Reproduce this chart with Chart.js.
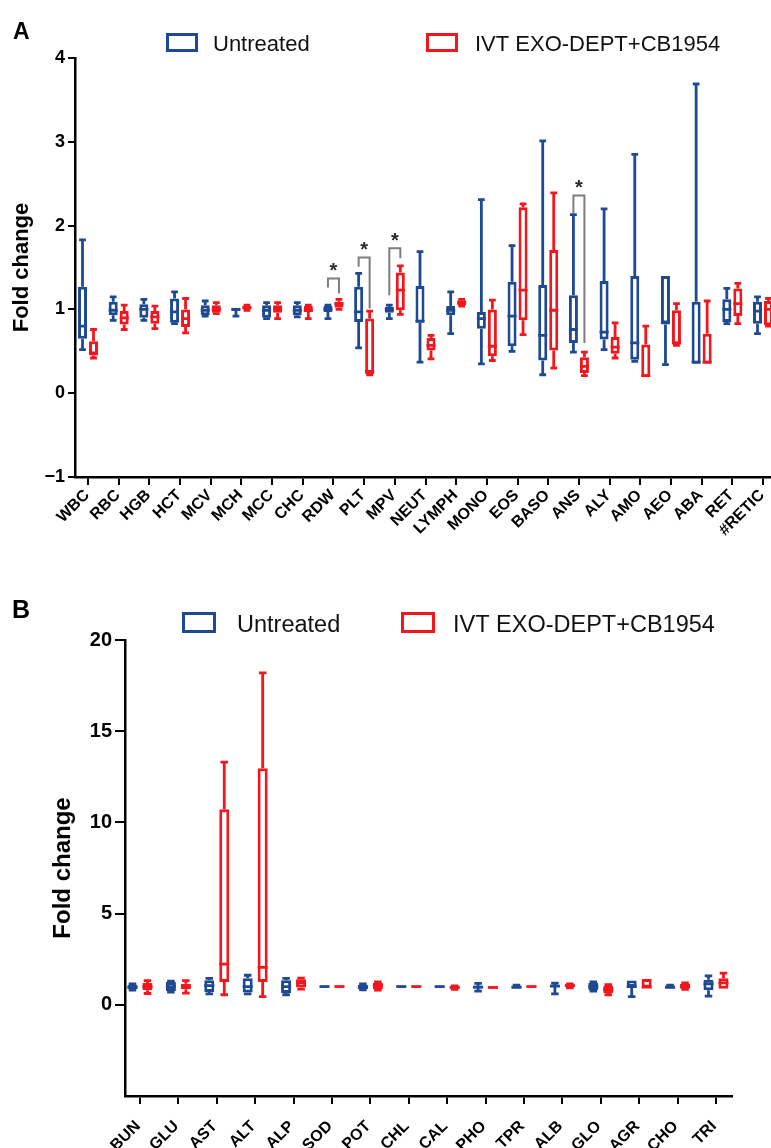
<!DOCTYPE html>
<html>
<head>
<meta charset="utf-8">
<title>Fold change box plots</title>
<script src="https://cdn.jsdelivr.net/npm/chart.js@4.4.1/dist/chart.umd.min.js"></script>
<style>
  body { margin: 0; background: #fff; }
  #wrap { position: relative; width: 771px; height: 1148px; background: #fff; }
  canvas { position: absolute; left: 0; }
</style>
</head>
<body>
<div id="wrap">
  <canvas id="chartA" width="771" height="574" style="top:0"></canvas>
  <canvas id="chartB" width="771" height="574" style="top:574px"></canvas>
</div>
<script>
// Séries (fold change) — caixa = q1..q3, bigodes = min..max
const seriesNames = ['Untreated', 'IVT EXO-DEPT+CB1954'];

// Painel A — hematologia
const catsA = ['WBC', 'RBC', 'HGB', 'HCT', 'MCV', 'MCH', 'MCC', 'CHC', 'RDW', 'PLT', 'MPV', 'NEUT', 'LYMPH',
  'MONO', 'EOS', 'BASO', 'ANS', 'ALY', 'AMO', 'AEO', 'ABA', 'RET', '#RETIC'];
const ticksA = [-1, 0, 1, 2, 3, 4];

const untrMinA = [0.52, 0.87, 0.87, 0.83, 0.92, 0.92, 0.89, 0.91, 0.89, 0.54, 0.89, 0.37, 0.71, 0.35, 0.50, 0.22, 0.49, 0.52, 0.38, 0.34, 0.35, 0.83, 0.71];
const untrQ1A  = [0.65, 0.93, 0.90, 0.84, 0.93, 0.98, 0.90, 0.93, 0.97, 0.85, 0.96, 0.84, 0.93, 0.77, 0.56, 0.39, 0.60, 0.64, 0.40, 0.82, 0.35, 0.85, 0.83];
const untrMedA = [0.80, 0.99, 1.00, 0.97, 0.99, 1.00, 0.99, 0.99, 1.00, 0.97, 1.00, 0.86, 0.99, 0.89, 0.92, 0.69, 0.76, 0.73, 0.60, 0.85, 0.37, 1.00, 0.98];
const untrQ3A  = [1.27, 1.09, 1.06, 1.13, 1.05, 1.02, 1.05, 1.05, 1.04, 1.27, 1.03, 1.28, 1.04, 0.97, 1.33, 1.29, 1.17, 1.34, 1.40, 1.40, 1.09, 1.12, 1.09];
const untrMaxA = [1.83, 1.15, 1.12, 1.21, 1.10, 1.02, 1.08, 1.08, 1.05, 1.43, 1.05, 1.69, 1.21, 2.31, 1.76, 3.01, 2.13, 2.20, 2.85, 1.40, 3.69, 1.25, 1.15];

const trtMinA = [0.42, 0.76, 0.77, 0.72, 0.95, 0.99, 0.89, 0.89, 1.00, 0.22, 0.94, 0.41, 1.04, 0.39, 0.70, 0.30, 0.21, 0.42, 0.19, 0.57, 0.35, 0.83, 0.80];
const trtQ1A  = [0.45, 0.82, 0.83, 0.79, 0.96, 1.00, 0.96, 0.97, 1.02, 0.23, 0.99, 0.51, 1.05, 0.44, 0.87, 0.51, 0.24, 0.47, 0.19, 0.58, 0.35, 0.92, 0.81];
const trtMedA = [0.48, 0.90, 0.91, 0.89, 1.00, 1.02, 1.01, 0.99, 1.07, 0.26, 1.23, 0.57, 1.08, 0.56, 1.23, 0.99, 0.32, 0.55, 0.21, 0.60, 0.37, 1.07, 1.00];
const trtQ3A  = [0.62, 0.98, 0.98, 1.00, 1.05, 1.04, 1.05, 1.04, 1.09, 0.89, 1.44, 0.66, 1.11, 1.00, 2.22, 1.71, 0.43, 0.67, 0.58, 0.99, 0.71, 1.25, 1.10];
const trtMaxA = [0.76, 1.05, 1.04, 1.13, 1.08, 1.05, 1.08, 1.05, 1.12, 0.98, 1.52, 0.69, 1.12, 1.11, 2.26, 2.39, 0.49, 0.84, 0.80, 1.07, 1.10, 1.31, 1.13];

// Colchetes de significância (painel A)
const sigCats     = ['RDW', 'PLT', 'MPV', 'ANS'];
const sigTop      = [1.37, 1.62, 1.73, 2.36];
const sigLeftEnd  = [1.26, 1.51, 1.17, 2.14];
const sigRightEnd = [1.19, 1.01, 1.61, 0.60];

// Painel B — bioquímica
const catsB = ['BUN', 'GLU', 'AST', 'ALT', 'ALP', 'SOD', 'POT', 'CHL', 'CAL', 'PHO', 'TPR', 'ALB', 'GLO', 'AGR', 'CHO', 'TRI'];
const ticksB = [0, 5, 10, 15, 20];

const untrMinB = [0.80, 0.70, 0.60, 0.60, 0.55, 0.98, 0.82, 0.97, 0.97, 0.75, 0.86, 0.60, 0.75, 0.45, 0.86, 0.48];
const untrQ1B  = [0.85, 0.75, 0.70, 0.68, 0.65, 0.99, 0.85, 0.98, 0.98, 0.90, 0.88, 0.98, 0.80, 0.97, 0.88, 0.80];
const untrMedB = [0.95, 1.00, 1.05, 1.00, 1.00, 1.00, 0.95, 1.00, 1.00, 0.97, 0.97, 1.02, 1.00, 1.00, 0.97, 1.15];
const untrQ3B  = [1.10, 1.25, 1.35, 1.45, 1.35, 1.01, 1.10, 1.02, 1.02, 1.05, 1.05, 1.08, 1.20, 1.33, 1.05, 1.38];
const untrMaxB = [1.15, 1.30, 1.45, 1.62, 1.45, 1.02, 1.15, 1.03, 1.03, 1.17, 1.08, 1.19, 1.25, 1.33, 1.08, 1.59];

const trtMinB = [0.62, 0.64, 0.55, 0.45, 0.86, 0.98, 0.80, 0.97, 0.85, 0.92, 0.97, 0.93, 0.55, 0.93, 0.85, 0.86];
const trtQ1B  = [0.80, 0.85, 1.25, 1.25, 0.95, 0.99, 0.85, 0.98, 0.88, 0.93, 0.98, 0.96, 0.65, 0.95, 0.88, 0.88];
const trtMedB = [1.00, 1.00, 2.23, 2.05, 1.20, 1.00, 1.05, 1.00, 0.95, 0.95, 1.00, 1.05, 0.85, 0.97, 1.00, 1.20];
const trtQ3B  = [1.20, 1.15, 10.72, 12.97, 1.40, 1.01, 1.20, 1.02, 1.00, 0.97, 1.02, 1.12, 1.05, 1.41, 1.15, 1.45];
const trtMaxB = [1.33, 1.33, 13.30, 18.20, 1.46, 1.02, 1.26, 1.03, 1.03, 0.98, 1.03, 1.15, 1.10, 1.41, 1.20, 1.74];

const BLUE = '#1d4a93';
const RED = '#f3161d';
const FONT = "'Liberation Sans', Arial, Helvetica, sans-serif";

Chart.defaults.font.family = FONT;
Chart.defaults.color = '#000';

// Caixa como barra flutuante [q1, q3]; mediana e bigodes vão no plugin
function boxSet(label, color, q1, q3, med, lo, hi, catPct, barPct) {
  return {
    label,
    data: q1.map((v, i) => ({ x: i, y: [v, q3[i]] })),
    median: med,
    whiskerLo: lo,
    whiskerHi: hi,
    backgroundColor: '#ffffff',
    borderColor: color,
    borderWidth: 3,
    borderSkipped: false,
    categoryPercentage: catPct,
    barPercentage: barPct,
    clip: false
  };
}

const whiskerPlugin = {
  id: 'whiskers',
  afterDatasetsDraw(chart, args, opts) {
    const ctx = chart.ctx;
    const yScale = chart.scales.y;
    chart.data.datasets.forEach((ds, di) => {
      const meta = chart.getDatasetMeta(di);
      ctx.save();
      ctx.strokeStyle = ds.borderColor;
      ctx.lineWidth = opts.lineWidth || 2.5;
      meta.data.forEach((bar, i) => {
        const top = Math.min(bar.y, bar.base);
        const bottom = Math.max(bar.y, bar.base);
        const yHi = yScale.getPixelForValue(ds.whiskerHi[i]);
        const yLo = yScale.getPixelForValue(ds.whiskerLo[i]);
        const yMed = yScale.getPixelForValue(ds.median[i]);
        const cap = bar.width * (opts.capRatio || 0.75) / 2;
        const half = bar.width / 2;
        ctx.beginPath();
        if (yHi < top - 0.5) {
          ctx.moveTo(bar.x, top); ctx.lineTo(bar.x, yHi);
          ctx.moveTo(bar.x - cap, yHi); ctx.lineTo(bar.x + cap, yHi);
        }
        if (yLo > bottom + 0.5) {
          ctx.moveTo(bar.x, bottom); ctx.lineTo(bar.x, yLo);
          ctx.moveTo(bar.x - cap, yLo); ctx.lineTo(bar.x + cap, yLo);
        }
        ctx.moveTo(bar.x - half, yMed); ctx.lineTo(bar.x + half, yMed);
        ctx.stroke();
      });
      ctx.restore();
    });
  }
};

const sigPlugin = {
  id: 'sig',
  afterDatasetsDraw(chart, args, opts) {
    if (!opts.cats) return;
    const ctx = chart.ctx;
    const y = chart.scales.y;
    const m0 = chart.getDatasetMeta(0);
    const m1 = chart.getDatasetMeta(1);
    ctx.save();
    opts.cats.forEach((c, k) => {
      const i = opts.labels.indexOf(c);
      const xl = m0.data[i].x;
      const xr = m1.data[i].x;
      const yt = y.getPixelForValue(opts.top[k]);
      ctx.strokeStyle = '#7d7d7d';
      ctx.lineWidth = 2;
      ctx.beginPath();
      ctx.moveTo(xl, y.getPixelForValue(opts.left[k]));
      ctx.lineTo(xl, yt);
      ctx.lineTo(xr, yt);
      ctx.lineTo(xr, y.getPixelForValue(opts.right[k]));
      ctx.stroke();
      ctx.fillStyle = '#2a2a2a';
      ctx.font = 'bold 20px ' + FONT;
      ctx.textAlign = 'center';
      ctx.textBaseline = 'alphabetic';
      ctx.fillText('*', (xl + xr) / 2, yt - 1);
    });
    ctx.restore();
  }
};

// Letra do painel + legenda com caixas vazadas
const headerPlugin = {
  id: 'header',
  afterDraw(chart, args, h) {
    const ctx = chart.ctx;
    ctx.save();
    ctx.fillStyle = '#000';
    ctx.textAlign = 'left';
    ctx.textBaseline = 'alphabetic';
    ctx.font = `bold ${h.letterSize}px ${FONT}`;
    ctx.fillText(h.letter, h.letterX, h.letterY);
    ctx.font = `${h.legendSize}px ${FONT}`;
    chart.data.datasets.forEach((ds, k) => {
      const it = h.items[k];
      ctx.strokeStyle = ds.borderColor;
      ctx.lineWidth = 3;
      ctx.strokeRect(it.boxX + 1.5, h.boxY + 1.5, h.boxW - 3, h.boxH - 3);
      ctx.fillStyle = '#111';
      ctx.fillText(ds.label, it.textX, h.legendY);
    });
    ctx.restore();
  }
};

function makeOptions(p) {
  return {
    responsive: false,
    animation: false,
    devicePixelRatio: 1,
    layout: { padding: p.padding },
    plugins: {
      legend: { display: false },
      tooltip: { enabled: false },
      whiskers: { lineWidth: 2.8, capRatio: 0.75 },
      sig: p.sig || {},
      header: p.header
    },
    scales: {
      x: {
        type: 'linear',
        offset: false,
        min: p.xMin,
        max: p.xMax,
        afterBuildTicks: s => { s.ticks = p.cats.map((_, i) => ({ value: i })); },
        afterFit: s => { s.height = p.xHeight; s.paddingLeft = 0; s.paddingRight = 0; },
        ticks: {
          autoSkip: false,
          minRotation: 45,
          maxRotation: 45,
          padding: p.xPad,
          labelOffset: p.xLabelOffset,
          color: '#000',
          font: { size: p.xFont, weight: 'bold' },
          callback: v => p.cats[v]
        },
        grid: { offset: false, drawOnChartArea: false, drawTicks: true, tickLength: 8, color: '#000', lineWidth: 2 },
        border: { display: true, color: '#000', width: 2.5 }
      },
      y: {
        min: p.yMin,
        max: p.yMax,
        afterBuildTicks: s => { s.ticks = p.yTicks.map(v => ({ value: v })); },
        afterFit: s => { s.width = p.yWidth; },
        ticks: {
          padding: p.yPad,
          color: '#000',
          font: { size: p.yFont, weight: 'bold' },
          callback: v => v < 0 ? '\u2212' + Math.abs(v) : String(v)
        },
        grid: { drawOnChartArea: false, drawTicks: true, tickLength: p.yTick, color: '#000', lineWidth: 2 },
        border: { display: true, color: '#000', width: 2.5 },
        title: {
          display: true,
          text: 'Fold change',
          color: '#000',
          font: { size: p.titleFont, weight: 'bold' },
          padding: { top: 4, bottom: 0 }
        }
      }
    }
  };
}

const chartA = new Chart(document.getElementById('chartA'), {
  type: 'bar',
  data: {
    datasets: [
      boxSet(seriesNames[0], BLUE, untrQ1A, untrQ3A, untrMedA, untrMinA, untrMaxA, 0.717, 0.82),
      boxSet(seriesNames[1], RED, trtQ1A, trtQ3A, trtMedA, trtMinA, trtMaxA, 0.717, 0.82)
    ]
  },
  options: makeOptions({
    padding: { left: 5, top: 58, right: 1, bottom: 0 },
    cats: catsA, xMin: -0.424, xMax: 22.228, xHeight: 97, xFont: 16, xPad: 1, xLabelOffset: -1,
    yMin: -1, yMax: 4, yTicks: ticksA, yWidth: 70, yFont: 18, yPad: 3, yTick: 7, titleFont: 22,
    sig: { cats: sigCats, labels: catsA, top: sigTop, left: sigLeftEnd, right: sigRightEnd },
    header: {
      letter: 'A', letterSize: 23, letterX: 13, letterY: 39,
      legendSize: 22, legendY: 51, boxY: 33, boxW: 32, boxH: 19,
      items: [{ boxX: 166, textX: 213 }, { boxX: 426, textX: 475 }]
    }
  }),
  plugins: [whiskerPlugin, sigPlugin, headerPlugin]
});

const chartB = new Chart(document.getElementById('chartB'), {
  type: 'bar',
  data: {
    datasets: [
      boxSet(seriesNames[0], BLUE, untrQ1B, untrQ3B, untrMedB, untrMinB, untrMaxB, 0.78, 0.67),
      boxSet(seriesNames[1], RED, trtQ1B, trtQ3B, trtMedB, trtMinB, trtMaxB, 0.78, 0.67)
    ]
  },
  options: makeOptions({
    padding: { left: 45, top: 66, right: 39, bottom: 0 },
    cats: catsB, xMin: -0.39, xMax: 15.417, xHeight: 52, xFont: 16, xPad: 13, xLabelOffset: -2,
    yMin: -5, yMax: 20, yTicks: ticksB, yWidth: 80, yFont: 20, yPad: 3, yTick: 10, titleFont: 24,
    header: {
      letter: 'B', letterSize: 25, letterX: 12, letterY: 44,
      legendSize: 23.5, legendY: 58, boxY: 38, boxW: 34, boxH: 21,
      items: [{ boxX: 182, textX: 237 }, { boxX: 401, textX: 453 }]
    }
  }),
  plugins: [whiskerPlugin, sigPlugin, headerPlugin]
});
</script>
</body>
</html>
